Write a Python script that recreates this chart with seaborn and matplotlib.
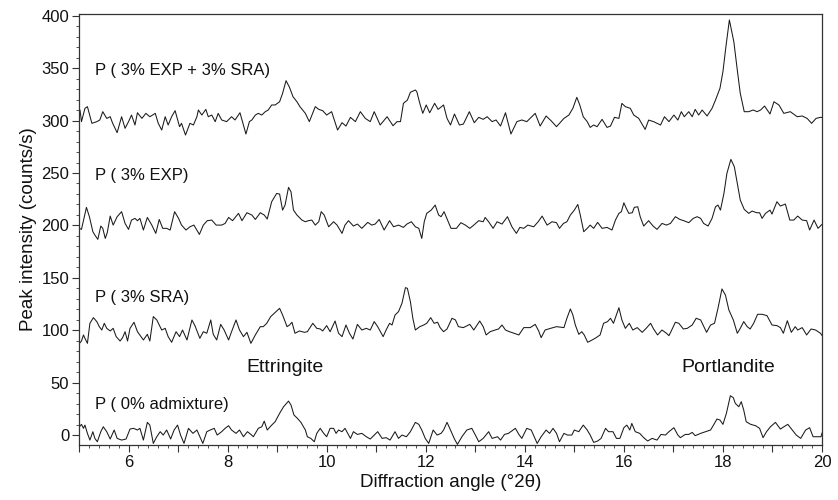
import matplotlib
matplotlib.use("Agg")
import matplotlib.pyplot as plt
from matplotlib.ticker import MultipleLocator, FuncFormatter
import seaborn as sns
import pandas as pd

# ---- data ----
x_exp_sra = [5.02,5.05,5.12,5.17,5.26,5.36,5.42,5.48,5.56,5.63,5.68,5.77,5.86,5.93,6.00,6.06,6.13,6.18,6.27,6.35,6.43,6.54,6.60,6.67,6.74,6.80,6.87,6.94,7.03,7.07,7.15,7.24,7.31,7.38,7.41,7.48,7.56,7.61,7.68,7.75,7.81,7.88,7.98,8.08,8.15,8.25,8.31,8.37,8.44,8.49,8.56,8.62,8.69,8.76,8.82,8.89,8.96,9.05,9.11,9.18,9.25,9.32,9.40,9.46,9.57,
             9.65,9.77,9.84,9.92,10.00,10.10,10.22,10.31,10.39,10.48,10.58,10.68,10.78,10.88,10.96,11.08,11.22,11.34,11.42,11.49,11.55,11.63,11.69,11.79,11.82,11.88,11.94,12.01,12.08,12.18,12.25,12.36,12.43,12.50,12.58,12.68,12.76,12.88,12.98,13.07,13.16,13.24,13.34,13.42,13.51,13.61,13.72,13.84,13.94,14.04,14.21,14.31,14.43,14.53,14.64,14.79,
             14.89,14.97,15.05,15.11,15.18,15.26,15.32,15.39,15.46,15.56,15.66,15.73,15.81,15.90,15.96,16.03,16.13,16.20,16.30,16.43,16.50,16.60,16.67,16.74,16.82,16.91,17.01,17.09,17.16,17.22,17.31,17.38,17.44,17.51,17.58,17.68,17.78,17.85,17.94,18.00,18.06,18.13,18.22,18.29,18.35,18.43,18.52,18.61,18.69,18.76,18.84,18.95,19.03,19.13,19.23,19.36,19.50,19.60,19.70,19.79,19.88,19.97,20.00]
y_exp_sra = [310.1,299.0,311.7,313.3,297.4,299.0,300.6,308.5,302.1,303.7,297.4,288.5,303.7,292.6,299.0,305.3,295.8,307.5,302.1,306.9,303.7,306.9,297.4,291.0,303.7,295.8,303.7,309.5,294.2,297.4,286.2,297.4,295.8,303.7,310.1,305.3,310.7,303.7,305.3,299.0,306.9,300.6,299.0,303.7,300.6,307.5,297.4,287.2,299.0,300.6,305.3,306.9,305.3,308.5,310.1,314.9,314.9,318.0,326.0,338.1,331.7,322.8,318.0,313.3,306.9,
             299.0,313.3,310.7,309.5,305.3,308.5,291.0,298.0,294.8,303.1,299.0,308.5,302.1,299.0,308.5,295.8,303.7,295.1,299.0,299.0,316.5,319.6,327.0,329.2,327.6,316.5,306.9,314.9,307.5,316.5,310.7,314.9,302.1,295.8,306.3,295.8,296.7,308.5,298.0,303.1,301.2,303.7,299.0,300.6,294.8,307.5,287.2,299.0,300.6,299.0,306.9,294.8,304.4,299.9,294.2,302.1,
             305.3,311.7,322.2,314.9,303.7,299.0,293.5,295.8,294.2,301.2,293.5,294.8,303.1,302.1,316.4,313.3,311.7,305.3,302.1,291.6,300.5,299.0,297.4,295.8,303.7,299.0,305.3,300.5,308.5,303.7,308.5,303.7,310.7,305.3,310.1,304.4,311.7,319.6,330.8,346.7,370.5,396.0,375.3,348.2,326.0,308.5,308.5,310.1,308.5,310.1,313.9,306.3,318.0,314.9,306.9,308.5,303.7,304.4,302.1,297.4,302.1,303.1,303.0]

x_exp = [5.01,5.05,5.10,5.15,5.21,5.28,5.32,5.38,5.44,5.48,5.53,5.57,5.63,5.69,5.77,5.86,5.93,6.00,6.06,6.13,6.18,6.23,6.30,6.38,6.47,6.55,6.62,6.69,6.77,6.84,6.93,7.01,7.07,7.16,7.24,7.32,7.43,7.51,7.59,7.68,7.77,7.88,7.95,8.02,8.10,8.22,8.29,8.39,8.49,8.56,8.66,8.74,8.80,8.89,8.99,9.05,9.11,9.16,9.23,9.28,9.33,9.40,9.50,9.57,
         9.63,9.70,9.77,9.84,9.89,9.95,10.04,10.14,10.21,10.31,10.37,10.44,10.54,10.62,10.71,10.83,10.91,10.98,11.06,11.16,11.27,11.35,11.45,11.55,11.62,11.71,11.79,11.86,11.92,11.97,12.02,12.11,12.19,12.26,12.31,12.37,12.44,12.51,12.62,12.71,12.80,12.89,12.97,13.07,13.16,13.20,13.27,13.36,13.44,13.54,13.65,13.74,13.83,13.90,13.98,14.06,14.18,14.27,14.35,14.45,14.55,14.64,14.70,14.78,
         14.85,14.92,15.00,15.07,15.12,15.19,15.26,15.32,15.39,15.47,15.56,15.66,15.76,15.83,15.90,15.95,16.00,16.05,16.10,16.17,16.21,16.28,16.33,16.40,16.50,16.59,16.67,16.77,16.86,16.94,17.04,17.13,17.21,17.31,17.40,17.48,17.55,17.61,17.70,17.78,17.85,17.90,17.95,18.02,18.08,18.16,18.23,18.29,18.35,18.43,18.52,18.59,18.68,18.74,18.79,18.86,18.95,18.99,19.09,19.16,19.26,19.35,19.43,19.51,19.60,19.69,19.75,19.84,19.92,20.00]
y_exp = [197.2,196.2,206.7,217.2,208.3,194.0,190.8,186.7,199.4,197.2,187.6,193.0,208.9,200.3,208.3,213.1,201.9,196.2,205.1,206.7,204.5,206.7,195.6,207.6,200.3,192.4,205.7,197.2,197.2,195.6,213.1,206.7,200.3,195.6,198.7,200.3,191.4,200.3,204.5,205.1,200.3,200.3,201.9,207.6,204.5,211.5,204.5,212.1,209.9,205.7,212.1,209.9,206.1,222.6,230.5,229.9,214.6,219.4,236.3,232.1,214.6,209.9,205.1,203.5,
         204.5,205.1,200.3,203.5,213.1,209.9,198.7,203.5,200.3,192.4,200.3,204.5,199.4,201.3,197.2,202.9,200.3,201.3,205.7,195.6,204.5,198.7,200.3,198.1,201.3,203.5,198.7,197.2,187.6,203.5,211.5,214.6,219.4,209.9,208.3,213.1,205.1,197.2,197.2,202.6,200.3,197.2,200.3,204.5,203.5,207.6,203.5,197.2,203.5,201.3,208.3,198.7,192.4,198.1,197.2,200.3,198.7,203.5,208.9,200.3,203.5,202.6,197.2,201.9,
         203.5,209.9,214.6,220.0,209.9,194.0,197.2,200.3,197.2,202.9,197.2,198.1,195.6,205.1,211.5,213.1,221.6,216.2,211.5,212.1,217.2,217.8,208.3,199.4,204.5,199.4,196.2,201.9,200.3,201.9,208.3,205.7,204.5,202.6,206.7,208.3,206.7,201.9,199.4,206.7,217.8,219.4,214.6,230.5,249.6,263.0,256.0,240.1,224.2,215.3,211.5,213.7,212.1,212.1,206.7,211.5,214.6,210.8,222.6,218.5,220.4,205.1,205.1,208.9,205.1,204.5,195.6,205.1,197.2,201.0]

x_sra = [5.01,5.05,5.09,5.12,5.17,5.22,5.29,5.36,5.41,5.46,5.51,5.56,5.63,5.69,5.75,5.83,5.88,5.93,5.98,6.03,6.11,6.18,6.25,6.30,6.38,6.43,6.50,6.57,6.62,6.67,6.74,6.80,6.87,6.96,7.03,7.09,7.18,7.28,7.34,7.44,7.51,7.58,7.66,7.71,7.78,7.86,7.93,8.02,8.08,8.17,8.24,8.32,8.39,8.47,8.56,8.66,8.72,8.79,8.87,8.94,9.05,9.11,9.20,9.25,9.30,9.36,9.45,9.55,
         9.61,9.72,9.80,9.87,9.92,10.00,10.07,10.17,10.24,10.31,10.39,10.46,10.53,10.62,10.71,10.80,10.88,10.96,11.03,11.14,11.20,11.27,11.32,11.38,11.45,11.52,11.59,11.63,11.69,11.74,11.79,11.88,11.96,12.02,12.10,12.17,12.24,12.29,12.36,12.43,12.53,12.60,12.66,12.76,12.89,12.97,13.09,13.16,13.22,13.30,13.40,13.47,13.54,13.61,13.69,13.78,13.88,13.98,14.11,14.21,14.28,14.33,14.41,14.52,14.64,14.79,
         14.85,14.92,14.97,15.02,15.09,15.15,15.20,15.27,15.36,15.44,15.52,15.59,15.67,15.73,15.79,15.90,15.96,16.03,16.11,16.18,16.27,16.37,16.45,16.54,16.60,16.68,16.77,16.86,16.91,16.95,17.04,17.11,17.20,17.28,17.38,17.46,17.55,17.67,17.75,17.83,17.90,17.98,18.05,18.12,18.21,18.29,18.35,18.42,18.49,18.55,18.62,18.70,18.79,18.89,18.99,19.09,19.16,19.22,19.30,19.38,19.46,19.51,19.60,19.69,19.78,19.87,19.97,20.00]
y_sra = [87.5,89.7,95.5,92.3,87.5,106.6,112.0,108.2,103.4,100.2,106.6,101.8,99.3,101.8,93.9,89.7,92.9,98.6,89.7,101.8,107.6,98.6,93.9,90.7,96.1,89.7,113.0,109.8,105.0,100.2,101.8,93.9,88.5,98.6,93.9,100.2,90.7,109.8,104.4,92.3,98.6,97.1,109.8,96.1,90.7,105.6,100.2,90.7,98.6,109.8,100.2,93.9,98.0,87.5,95.5,103.4,103.4,106.6,113.0,116.1,120.9,114.6,103.4,105.0,107.6,97.1,99.3,98.0,
         98.6,106.6,101.8,101.2,99.3,104.4,98.6,108.8,97.1,93.9,105.0,97.1,91.6,105.6,100.2,101.8,100.2,108.2,103.4,93.9,100.2,106.6,105.0,114.5,117.7,125.7,140.6,140.0,127.3,111.4,100.2,103.4,105.0,106.6,112.0,106.6,107.6,102.5,98.6,101.2,111.4,109.8,103.4,102.5,105.6,100.2,108.8,103.4,95.5,98.6,100.2,101.2,105.0,100.2,98.6,97.1,95.5,102.5,102.5,105.6,99.3,92.9,100.2,101.8,103.4,102.5,
         111.4,120.3,114.6,105.0,96.1,98.6,95.5,88.5,90.7,92.9,95.5,106.6,108.2,111.4,106.6,121.5,109.8,101.8,106.6,100.2,102.5,98.0,101.8,106.6,101.2,95.5,100.2,97.1,94.8,98.6,107.6,106.6,101.2,101.8,105.0,111.4,109.8,98.0,105.0,106.6,120.9,139.4,133.6,119.3,109.8,97.1,101.8,108.2,103.4,101.2,106.6,115.2,115.2,113.9,105.0,104.4,102.5,97.1,109.1,98.0,103.4,100.2,102.5,95.5,101.2,100.2,97.1,95.0]

x_ref = [5.01,5.05,5.09,5.12,5.17,5.22,5.28,5.32,5.37,5.44,5.49,5.56,5.63,5.71,5.77,5.86,5.95,6.03,6.10,6.18,6.23,6.30,6.38,6.43,6.50,6.57,6.64,6.70,6.77,6.85,6.92,6.99,7.05,7.12,7.21,7.30,7.38,7.50,7.58,7.65,7.73,7.79,7.88,7.95,8.02,8.08,8.17,8.24,8.32,8.40,8.47,8.52,8.62,8.69,8.74,8.80,8.89,8.96,9.05,9.13,9.23,9.28,9.34,9.41,9.48,9.57,
         9.61,9.68,9.75,9.80,9.87,9.94,10.00,10.07,10.14,10.19,10.24,10.31,10.37,10.48,10.54,10.62,10.71,10.80,10.88,10.95,11.03,11.12,11.20,11.28,11.38,11.45,11.52,11.61,11.69,11.79,11.86,11.92,11.99,12.06,12.15,12.23,12.31,12.36,12.43,12.50,12.58,12.64,12.73,12.83,12.93,13.02,13.07,13.16,13.27,13.34,13.45,13.51,13.59,13.67,13.81,13.88,13.94,14.04,14.13,14.25,14.33,14.43,14.50,14.57,14.64,14.70,14.79,
         14.86,14.95,15.00,15.09,15.18,15.26,15.32,15.39,15.47,15.54,15.63,15.69,15.78,15.85,15.92,16.00,16.06,16.12,16.16,16.23,16.32,16.40,16.48,16.57,16.67,16.75,16.84,16.91,17.01,17.09,17.14,17.24,17.31,17.38,17.44,17.55,17.65,17.75,17.81,17.88,17.94,18.00,18.07,18.15,18.21,18.25,18.32,18.37,18.42,18.47,18.56,18.66,18.74,18.81,18.88,18.96,19.06,19.16,19.23,19.31,19.40,19.48,19.57,19.67,19.75,19.82,19.90,19.98,20.00]
y_ref = [7.9,10.2,6.4,9.5,1.6,-4.8,3.2,-3.2,-6.4,3.2,7.9,3.2,-3.8,4.8,-3.2,-4.8,-3.8,5.7,6.4,4.8,6.4,-4.8,12.1,9.5,-8.0,-1.6,3.2,0.0,4.8,-3.8,4.8,9.5,0.0,-8.0,6.4,1.6,4.8,-8.0,3.2,4.8,6.4,0.0,3.2,6.4,8.9,4.8,1.6,4.8,-1.6,3.2,0.6,-1.6,6.4,7.9,13.3,4.8,9.5,12.7,20.7,27.0,32.4,28.6,19.1,15.9,12.1,4.8,
         -1.6,-3.2,-6.4,1.6,6.4,1.6,-1.6,6.4,6.4,1.6,4.8,3.2,6.4,-3.2,3.2,0.6,1.6,-1.6,-3.8,-0.6,3.2,-3.2,-2.5,-4.8,3.2,-3.2,0.0,-1.6,3.2,12.1,10.2,4.8,-3.2,-8.0,4.8,0.0,1.6,4.8,12.1,4.8,-3.8,-8.9,-1.6,4.8,6.4,-1.6,-6.4,-3.2,3.2,-3.2,-1.6,-4.8,0.6,1.6,6.4,0.6,-3.2,6.4,4.8,-8.0,-1.6,4.8,1.6,6.4,1.6,-6.4,1.6,
         0.0,0.0,4.8,3.2,9.5,4.8,0.0,-7.0,-5.7,-3.2,6.4,3.2,3.2,-3.2,-3.2,7.0,9.5,4.8,11.1,3.2,1.6,-2.5,-5.7,-3.2,-4.8,0.6,0.0,3.2,7.0,0.0,-2.5,0.6,0.6,2.5,-0.6,1.6,3.2,4.8,9.5,15.3,14.3,10.2,20.7,37.5,35.6,30.2,27.0,31.8,23.8,12.7,10.2,8.9,6.4,-2.5,3.2,7.9,12.1,5.7,7.9,10.2,4.8,0.0,-3.2,4.8,7.0,-1.6,-1.6,-1.6,2.0]

series_labels = ["P ( 3% EXP + 3% SRA)", "P ( 3% EXP)", "P ( 3% SRA)", "P ( 0% admixture)"]
label_y = [348, 248, 131, 29]
phase_labels = ["Ettringite", "Portlandite"]
phase_x = [9.15, 18.1]
phase_y = [64, 64]

frames = []
for name, xs, ys in [(series_labels[0], x_exp_sra, y_exp_sra),
                     (series_labels[1], x_exp, y_exp),
                     (series_labels[2], x_sra, y_sra),
                     (series_labels[3], x_ref, y_ref)]:
    frames.append(pd.DataFrame({"angle": xs, "intensity": ys, "sample": name}))
df = pd.concat(frames, ignore_index=True)

sns.set_theme(style="ticks")
plt.rcParams['font.family'] = ['Liberation Sans', 'DejaVu Sans']

fig = plt.figure(figsize=(8.38, 5.0), dpi=100)
ax = fig.add_axes([79/838, 1-445/500, (822-79)/838, (445-14)/500])

sns.lineplot(data=df, x="angle", y="intensity", units="sample", estimator=None,
             sort=False, color="#1a1a1a", linewidth=0.75, ax=ax, legend=False)

ax.set_xlim(5, 20)
ax.set_ylim(-9.5, 401.7)
ax.xaxis.set_major_locator(MultipleLocator(1))
ax.xaxis.set_minor_locator(MultipleLocator(0.2))
ax.xaxis.set_major_formatter(FuncFormatter(lambda v, p: f"{int(round(v))}" if int(round(v)) % 2 == 0 and v > 5.5 else ""))
ax.yaxis.set_major_locator(MultipleLocator(50))
ax.yaxis.set_minor_locator(MultipleLocator(10))
ax.tick_params(axis='both', which='major', length=5, width=0.8, labelsize=12, color='#333333', labelcolor='#111111', pad=2)
ax.tick_params(axis='both', which='minor', length=2.5, width=0.6, color='#333333')
for s in ax.spines.values():
    s.set_linewidth(0.9)
    s.set_color('#333333')

ax.set_xlabel("Diffraction angle (°2θ)", fontsize=13.5, color='#111111', labelpad=3)
ax.set_ylabel("Peak intensity (counts/s)", fontsize=13.5, color='#111111', labelpad=3)

for lab, ly in zip(series_labels, label_y):
    ax.text(5.32, ly, lab, fontsize=12, ha='left', va='center', color='#111111')
for lab, px, py in zip(phase_labels, phase_x, phase_y):
    ax.text(px, py, lab, fontsize=14, ha='center', va='center', color='#111111')

fig.savefig("out.png", dpi=100)
